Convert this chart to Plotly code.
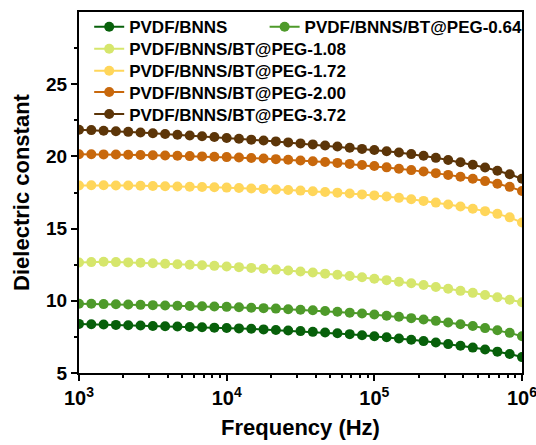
import numpy as np
import plotly.graph_objects as go

# Frequency sweep: 12 log-spaced points per decade, 1 kHz to 1 MHz
freq = 10 ** (3 + np.arange(37) / 12)

names = [
    "PVDF/BNNS",
    "PVDF/BNNS/BT@PEG-0.64",
    "PVDF/BNNS/BT@PEG-1.08",
    "PVDF/BNNS/BT@PEG-1.72",
    "PVDF/BNNS/BT@PEG-2.00",
    "PVDF/BNNS/BT@PEG-3.72",
]
colors = ["#07600a", "#4e9a2a", "#d6e66c", "#ffd65a", "#c8680c", "#5c3508"]

eps_bnns = [8.40, 8.38, 8.36, 8.33, 8.31, 8.29, 8.26, 8.24, 8.22, 8.19, 8.17, 8.14, 8.12,
            8.09, 8.06, 8.02, 7.98, 7.94, 7.90, 7.85, 7.80, 7.75, 7.69, 7.62, 7.55,
            7.47, 7.39, 7.30, 7.21, 7.11, 7.00, 6.89, 6.76, 6.63, 6.48, 6.31, 6.10]
eps_064 = [9.80, 9.79, 9.77, 9.76, 9.74, 9.72, 9.70, 9.68, 9.66, 9.64, 9.62, 9.60, 9.58,
           9.55, 9.52, 9.49, 9.46, 9.42, 9.38, 9.34, 9.29, 9.24, 9.18, 9.12, 9.05,
           8.97, 8.89, 8.80, 8.71, 8.61, 8.50, 8.38, 8.25, 8.11, 7.96, 7.78, 7.55]
eps_108 = [12.65, 12.68, 12.70, 12.68, 12.66, 12.63, 12.60, 12.57, 12.53, 12.50, 12.46, 12.42, 12.38,
           12.33, 12.28, 12.22, 12.16, 12.10, 12.03, 11.96, 11.88, 11.80, 11.72, 11.63, 11.53,
           11.43, 11.32, 11.21, 11.09, 10.96, 10.83, 10.69, 10.55, 10.40, 10.24, 10.07, 9.90]
eps_172 = [17.98, 18.00, 18.00, 17.99, 17.98, 17.97, 17.95, 17.93, 17.92, 17.90, 17.88, 17.86, 17.84,
           17.81, 17.78, 17.75, 17.71, 17.67, 17.63, 17.59, 17.54, 17.49, 17.43, 17.37, 17.30,
           17.22, 17.13, 17.03, 16.92, 16.80, 16.67, 16.53, 16.38, 16.21, 16.02, 15.78, 15.42]
eps_200 = [20.15, 20.15, 20.14, 20.13, 20.12, 20.10, 20.08, 20.06, 20.04, 20.02, 20.00, 19.97, 19.95,
           19.92, 19.89, 19.85, 19.81, 19.77, 19.72, 19.67, 19.61, 19.55, 19.48, 19.41, 19.33,
           19.24, 19.15, 19.05, 18.95, 18.84, 18.72, 18.59, 18.45, 18.29, 18.11, 17.89, 17.60]
eps_372 = [21.85, 21.82, 21.78, 21.74, 21.70, 21.65, 21.60, 21.55, 21.50, 21.45, 21.40, 21.34, 21.28,
           21.22, 21.16, 21.10, 21.04, 20.97, 20.90, 20.83, 20.76, 20.68, 20.60, 20.52, 20.44,
           20.36, 20.27, 20.16, 20.04, 19.90, 19.75, 19.59, 19.42, 19.23, 19.01, 18.76, 18.45]
series = [eps_bnns, eps_064, eps_108, eps_172, eps_200, eps_372]

x_ticks = [1e3, 1e4, 1e5, 1e6]
x_labels = ["10<sup>3</sup>", "10<sup>4</sup>", "10<sup>5</sup>", "10<sup>6</sup>"]
y_ticks = [5, 10, 15, 20, 25]

FONT = "Arial, Liberation Sans, sans-serif"
LEG_FONT = dict(size=17, family=FONT, color="black", weight="bold")

# one single-entry legend per series so the rows can be laid out freely
# (first row holds two entries side by side)
legend_pos = [(0.023, 0.958), (0.419, 0.958), (0.023, 0.897),
              (0.023, 0.836), (0.023, 0.777), (0.023, 0.716)]
legend_ids = ["legend"] + [f"legend{i}" for i in range(2, 7)]

fig = go.Figure()
for name, col, vals, lid in zip(names, colors, series, legend_ids):
    fig.add_trace(go.Scatter(
        x=freq, y=vals, name=name, mode="lines+markers",
        line=dict(color=col, width=2),
        marker=dict(color=col, size=10),
        legend=lid,
    ))

legend_layout = {
    lid: dict(x=px, y=py, xanchor="left", yanchor="middle",
              bgcolor="rgba(0,0,0,0)", font=LEG_FONT, itemwidth=30)
    for lid, (px, py) in zip(legend_ids, legend_pos)
}

minor_x = [m * 10 ** d for d in range(3, 6) for m in range(2, 10)]

fig.update_layout(
    width=536, height=445,
    margin=dict(l=79, r=14, t=12, b=72, autoexpand=False),
    paper_bgcolor="white", plot_bgcolor="white",
    font=dict(family=FONT, color="black"),
    showlegend=True,
    **legend_layout,
)
fig.update_xaxes(
    type="log", range=[3, 6], automargin=False,
    tickmode="array", tickvals=x_ticks, ticktext=x_labels,
    ticklabeloverflow="allow",
    ticks="outside", ticklen=6, tickwidth=2, tickcolor="black",
    minor=dict(tickmode="array", tickvals=minor_x, ticks="outside", ticklen=3,
               tickwidth=1.5, tickcolor="black"),
    showline=True, linecolor="black", linewidth=2, mirror=True,
    showgrid=False, zeroline=False,
    tickfont=dict(size=20, family=FONT, weight="bold"),
    title=dict(text="Frequency (Hz)", font=dict(size=22, family=FONT, weight="bold"), standoff=12),
)
fig.update_yaxes(
    range=[5, 30], automargin=False,
    tickmode="array", tickvals=y_ticks,
    ticks="outside", ticklen=6, tickwidth=2, tickcolor="black",
    minor=dict(tickmode="array", tickvals=[7.5, 12.5, 17.5, 22.5, 27.5], ticks="outside",
               ticklen=3, tickwidth=1.5, tickcolor="black"),
    showline=True, linecolor="black", linewidth=2, mirror=True,
    showgrid=False, zeroline=False,
    tickfont=dict(size=19, family=FONT, weight="bold"),
    title=dict(text="Dielectric constant", font=dict(size=22, family=FONT, weight="bold"), standoff=10),
)

fig.write_html("out.html")
